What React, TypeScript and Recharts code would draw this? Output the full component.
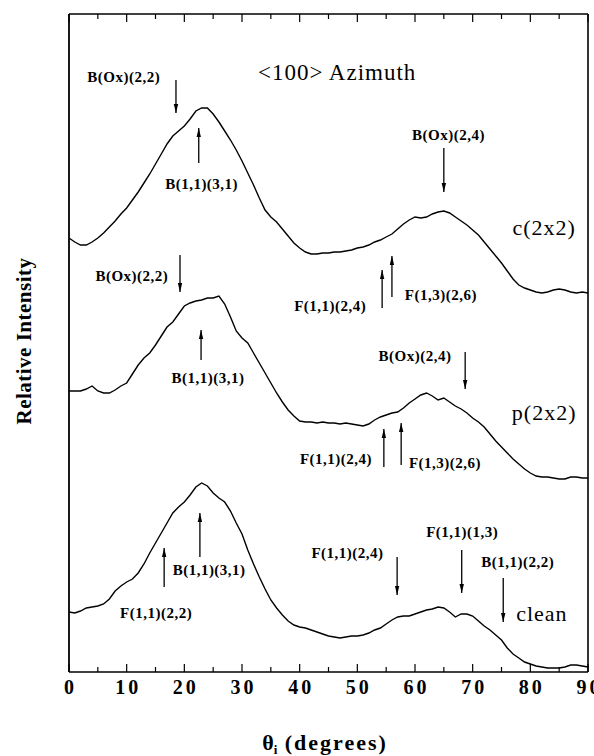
import React from "react";
import {
  LineChart,
  Line,
  XAxis,
  YAxis,
  ReferenceLine,
  ReferenceDot,
} from "recharts";

// incidence angle, degrees
const THETA = [
  0, 1, 2, 3, 4, 5, 6, 7, 8, 9, 10, 11, 12, 13, 14, 15, 16, 17, 18, 19, 20,
  21, 22, 23, 24, 25, 26, 27, 28, 29, 30, 31, 32, 33, 34, 35, 36, 37, 38, 39,
  40, 41, 42, 43, 44, 45, 46, 47, 48, 49, 50, 51, 52, 53, 54, 55, 56, 57, 58,
  59, 60, 61, 62, 63, 64, 65, 66, 67, 68, 69, 70, 71, 72, 73, 74, 75, 76, 77,
  78, 79, 80, 81, 82, 83, 84, 85, 86, 87, 88, 89, 90,
];

// relative intensity (arbitrary units, curves offset)
const C2X2 = [
  434, 430, 427, 427, 430, 434, 439, 445, 451, 458, 464, 472, 480, 489, 498,
  508, 518, 528, 536, 541, 546, 553, 561, 564, 564, 558, 550, 541, 532, 522,
  511, 499, 487, 474, 462, 455, 450, 443, 436, 429, 424, 420, 418, 418, 419,
  419, 420, 420, 421, 422, 424, 425, 427, 430, 432, 435, 438, 443, 448, 452,
  455, 454, 455, 458, 460, 461, 459, 455, 451, 447, 442, 437, 430, 423, 416,
  409, 401, 393, 387, 384, 382, 380, 379, 380, 382, 383, 382, 380, 379, 380,
  379,
];

const P2X2 = [
  281, 281, 281, 283, 286, 281, 279, 279, 282, 286, 289, 298, 307, 314, 319,
  327, 336, 345, 350, 358, 366, 369, 371, 372, 374, 374, 376, 368, 355, 341,
  334, 329, 319, 309, 299, 289, 279, 270, 262, 256, 251, 250, 250, 249, 250,
  249, 249, 248, 249, 248, 247, 246, 248, 252, 255, 257, 259, 260, 264, 269,
  273, 277, 279, 276, 272, 274, 270, 266, 263, 259, 254, 250, 245, 238, 231,
  225, 219, 213, 208, 203, 199, 196, 195, 195, 194, 193, 193, 195, 195, 194,
  194,
];

const CLEAN = [
  60, 59, 61, 64, 65, 66, 68, 73, 81, 86, 90, 93, 99, 108, 119, 129, 139, 149,
  159, 165, 170, 177, 185, 189, 186, 179, 174, 170, 161, 149, 138, 122, 108,
  95, 83, 72, 64, 57, 51, 47, 45, 44, 42, 40, 38, 36, 35, 34, 35, 36, 36, 37,
  39, 42, 44, 48, 52, 55, 56, 56, 58, 60, 62, 63, 65, 64, 60, 55, 58, 58, 56,
  51, 46, 42, 37, 32, 24, 18, 14, 10, 8, 6, 5, 4, 4, 4, 5, 7, 7, 6, 5,
];

const X_TICKS = [0, 5, 10, 15, 20, 25, 30, 35, 40, 45, 50, 55, 60, 65, 70, 75, 80, 85, 90];

// arrows: angle, tail, tip
const ARROW_X = [18.55, 22.5, 65.0, 54.3, 56.0, 19.25, 22.9, 68.7, 54.6, 57.6, 22.7, 16.5, 56.9, 68.1, 75.3];
const ARROW_TAIL = [592, 509, 524, 364, 375, 417, 312, 320, 205, 207, 115, 85, 115, 122, 94];
const ARROW_TIP = [559, 544, 480, 402, 416, 380, 342, 283, 243, 249, 159, 124, 77, 79, 50];

// peak assignment labels
const NOTE_TEXT = [
  "B(Ox)(2,2)", "B(1,1)(3,1)", "B(Ox)(2,4)", "F(1,1)(2,4)", "F(1,3)(2,6)",
  "B(Ox)(2,2)", "B(1,1)(3,1)", "B(Ox)(2,4)", "F(1,1)(2,4)", "F(1,3)(2,6)",
  "B(1,1)(3,1)", "F(1,1)(2,2)", "F(1,1)(2,4)", "F(1,1)(1,3)", "B(1,1)(2,2)",
];
const NOTE_X = [9.5, 23.0, 65.8, 45.3, 64.5, 10.9, 24.1, 60.0, 46.3, 65.2, 24.3, 15.1, 48.3, 68.2, 77.8];
const NOTE_Y = [595, 488, 537, 366, 377, 396, 294, 316, 213, 209, 102, 59, 119, 140, 110];

const SERIES_NAMES = ["c(2x2)", "p(2x2)", "clean"];
const SERIES_NAME_X = [82.4, 82.4, 82.0];
const SERIES_NAME_Y = [445, 260, 59];

const rows = THETA.map((t, i) => ({
  theta: t,
  c: C2X2[i],
  p: P2X2[i],
  clean: CLEAN[i],
}));

const SERIF = "'Liberation Serif', 'Times New Roman', serif";

const BottomTick = (props: any) => {
  const { x, y, payload } = props;
  const major = payload.value % 10 === 0;
  return (
    <g>
      <line x1={x} x2={x} y1={y} y2={y - (major ? 8 : 5)} stroke="#000" strokeWidth={1.2} />
      {major && (
        <text
          x={x + 1.5}
          y={y + 22}
          textAnchor="middle"
          fontFamily={SERIF}
          fontWeight="bold"
          fontSize={20}
          letterSpacing={3}
          fill="#000"
        >
          {payload.value}
        </text>
      )}
    </g>
  );
};

const TopTick = (props: any) => {
  const { x, y, payload } = props;
  const major = payload.value % 10 === 0;
  return <line x1={x} x2={x} y1={y} y2={y + (major ? 8 : 5)} stroke="#000" strokeWidth={1.2} />;
};

const Arrow = (props: any) => {
  const { x1, y1, x2, y2 } = props;
  const dir = y2 > y1 ? 1 : -1;
  return (
    <g>
      <line x1={x1} y1={y1} x2={x2} y2={y2} stroke="#000" strokeWidth={1.3} />
      <polygon
        points={`${x2},${y2} ${x2 - 2.2},${y2 - dir * 9} ${x2 + 2.2},${y2 - dir * 9}`}
        fill="#000"
      />
    </g>
  );
};

const textShape =
  (value: string, size: number, weight: string, spacing: number) => (p: any) =>
    (
      <text
        x={p.cx}
        y={p.cy}
        textAnchor="middle"
        dominantBaseline="central"
        fontFamily={SERIF}
        fontSize={size}
        fontWeight={weight}
        letterSpacing={spacing}
        fill="#000"
      >
        {value}
      </text>
    );

const yLabelShape = (p: any) => (
  <text
    x={p.cx}
    y={p.cy}
    textAnchor="middle"
    dominantBaseline="central"
    transform={`rotate(-90 ${p.cx} ${p.cy})`}
    fontFamily={SERIF}
    fontSize={21}
    fontWeight="bold"
    letterSpacing={0.5}
    fill="#000"
  >
    Relative Intensity
  </text>
);

const xLabelShape = (p: any) => (
  <text
    x={p.cx}
    y={p.cy}
    textAnchor="start"
    fontFamily={SERIF}
    fontSize={22}
    fontWeight="bold"
    fill="#000"
  >
    <tspan>θ</tspan>
    <tspan dy={4} fontSize={13}>i</tspan>
    <tspan dy={-4} letterSpacing={2}>{"  (degrees)"}</tspan>
  </text>
);

export default function App() {
  return (
    <div style={{ position: "absolute", left: 0, top: 0, width: 594, height: 756, background: "#fff" }}>
      <LineChart
        width={594}
        height={756}
        data={rows}
        margin={{ top: 13, right: 5, bottom: 83, left: 68 }}
      >
        <XAxis
          dataKey="theta"
          type="number"
          domain={[0, 90]}
          ticks={X_TICKS}
          interval={0}
          height={1}
          tickSize={0}
          tickMargin={0}
          tickLine={false}
          tick={<BottomTick />}
          axisLine={{ stroke: "#000", strokeWidth: 1.6 }}
        />
        <XAxis
          xAxisId="top"
          orientation="top"
          dataKey="theta"
          type="number"
          domain={[0, 90]}
          ticks={X_TICKS}
          interval={0}
          height={1}
          tickSize={0}
          tickMargin={0}
          tickLine={false}
          tick={<TopTick />}
          axisLine={{ stroke: "#000", strokeWidth: 1.6 }}
        />
        <YAxis
          type="number"
          domain={[0, 658]}
          width={1}
          tick={false}
          tickLine={false}
          axisLine={{ stroke: "#000", strokeWidth: 1.8 }}
        />
        <YAxis
          yAxisId="r"
          orientation="right"
          type="number"
          domain={[0, 658]}
          width={1}
          tick={false}
          tickLine={false}
          axisLine={{ stroke: "#000", strokeWidth: 1.6 }}
        />
        <Line dataKey="c" type="linear" stroke="#000" strokeWidth={1.4} dot={false} isAnimationActive={false} />
        <Line dataKey="p" type="linear" stroke="#000" strokeWidth={1.4} dot={false} isAnimationActive={false} />
        <Line dataKey="clean" type="linear" stroke="#000" strokeWidth={1.4} dot={false} isAnimationActive={false} />

        {ARROW_X.map((ax, i) => (
          <ReferenceLine
            key={`a${i}`}
            segment={[
              { x: ax, y: ARROW_TAIL[i] },
              { x: ax, y: ARROW_TIP[i] },
            ]}
            ifOverflow="visible"
            shape={Arrow}
          />
        ))}

        {NOTE_TEXT.map((t, i) => (
          <ReferenceDot
            key={`n${i}`}
            x={NOTE_X[i]}
            y={NOTE_Y[i]}
            r={1}
            ifOverflow="visible"
            shape={textShape(t, 15, "bold", 0.5)}
          />
        ))}

        {SERIES_NAMES.map((t, i) => (
          <ReferenceDot
            key={`s${i}`}
            x={SERIES_NAME_X[i]}
            y={SERIES_NAME_Y[i]}
            r={1}
            ifOverflow="visible"
            shape={textShape(t, 22, "normal", 1)}
          />
        ))}

        <ReferenceDot x={46.5} y={600} r={1} ifOverflow="visible" shape={textShape("<100> Azimuth", 23, "normal", 1)} />
        <ReferenceDot x={-7.8} y={331} r={1} ifOverflow="visible" shape={yLabelShape} />
        <ReferenceDot x={33.5} y={-78} r={1} ifOverflow="visible" shape={xLabelShape} />
      </LineChart>
    </div>
  );
}
